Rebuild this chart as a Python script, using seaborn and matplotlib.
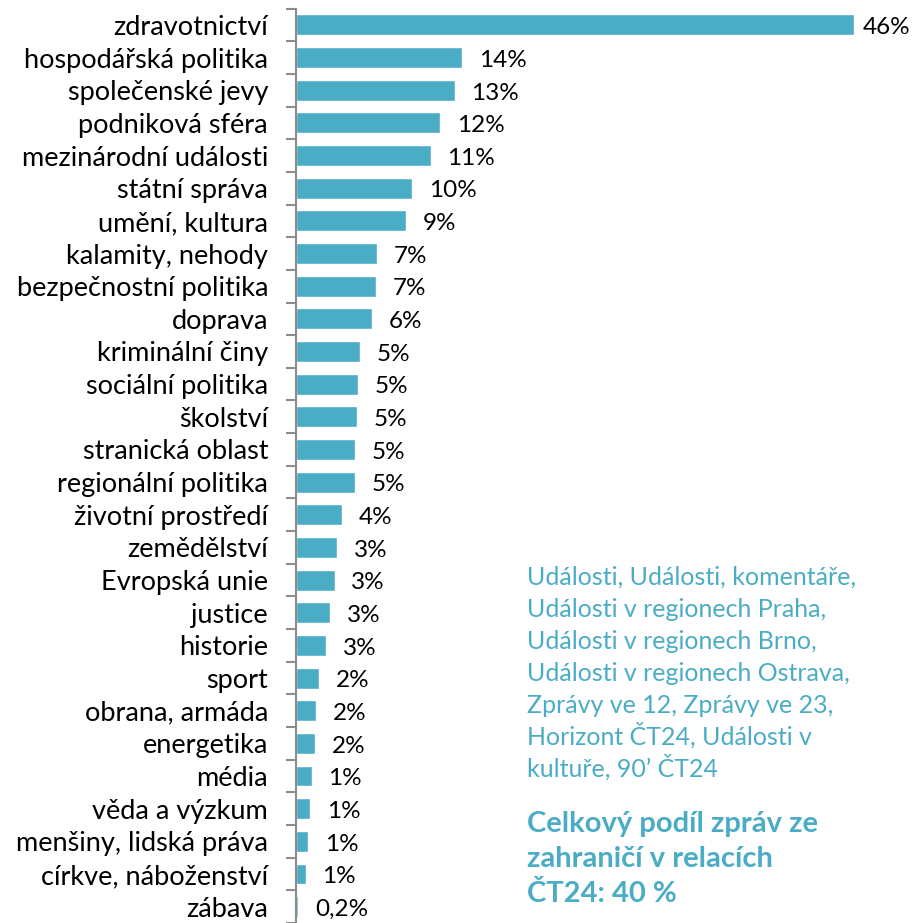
import matplotlib
matplotlib.use("Agg")
import matplotlib.pyplot as plt
import seaborn as sns
import numpy as np
import pandas as pd

categories = ["zdravotnictví", "hospodářská politika", "společenské jevy", "podniková sféra",
              "mezinárodní události", "státní správa", "umění, kultura", "kalamity, nehody",
              "bezpečnostní politika", "doprava", "kriminální činy", "sociální politika",
              "školství", "stranická oblast", "regionální politika", "životní prostředí",
              "zemědělství", "Evropská unie", "justice", "historie", "sport", "obrana, armáda",
              "energetika", "média", "věda a výzkum", "menšiny, lidská práva",
              "církve, náboženství", "zábava"]
values = [46.0, 13.7, 13.1, 11.9, 11.1, 9.6, 9.1, 6.7, 6.6, 6.3, 5.3, 5.1, 5.0, 4.9, 4.9,
          3.8, 3.4, 3.2, 2.8, 2.5, 1.9, 1.65, 1.6, 1.3, 1.2, 1.0, 0.8, 0.2]
value_labels = ["46%", "14%", "13%", "12%", "11%", "10%", "9%", "7%", "7%", "6%", "5%", "5%",
                "5%", "5%", "5%", "4%", "3%", "3%", "3%", "3%", "2%", "2%", "2%", "1%", "1%",
                "1%", "1%", "0,2%"]

note_lines = ["Události, Události, komentáře,", "Události v regionech Praha,",
              "Události v regionech Brno,", "Události v regionech Ostrava,",
              "Zprávy ve 12, Zprávy ve 23,", "Horizont ČT24, Události v",
              "kultuře, 90’ ČT24"]
total_lines = ["Celkový podíl zpráv ze", "zahraničí v relacích", "ČT24: 40 %"]

bar_color = "#4BACC6"

sns.set_style("white")
plt.rcParams['font.family'] = ['Lato', 'DejaVu Sans']

df = pd.DataFrame({"category": categories, "value": values})

fig = plt.figure(figsize=(9.13, 9.23), dpi=100)
ax = fig.add_axes([0.324, 0.0, 0.613, 0.9907])
sns.barplot(data=df, x="value", y="category", color=bar_color, saturation=1,
            width=0.64, ax=ax, orient="h")

ax.set_xlim(0, 46.1)
ax.set_ylim(len(categories) - 0.5, -0.5)
ax.set_xlabel("")
ax.set_ylabel("")
ax.set_xticks([])
sns.despine(ax=ax, top=True, right=True, bottom=True)
ax.spines["left"].set_color("#8c8c8c")
ax.spines["left"].set_linewidth(1.5)

ax.tick_params(axis="y", which="major", length=0, labelsize=19.5, pad=20, colors="black")
ax.set_yticks(np.arange(len(categories) + 1) - 0.5, minor=True)
ax.tick_params(axis="y", which="minor", length=7, width=1.5, color="#8c8c8c", left=True)

for i, (p, lab) in enumerate(zip(ax.patches, value_labels)):
    pad = 6 if i == 0 else 12
    ax.annotate(lab, (p.get_width(), p.get_y() + p.get_height() / 2),
                xytext=(pad, -2), textcoords="offset points", va="center", ha="left",
                fontsize=17.5, color="black", annotation_clip=False)

# text block on the right, placed by baseline so accents don't shift lines
H = 923
for k, line in enumerate(note_lines):
    fig.text(527 / 913, 1 - (577 + 8 + 32 * k) / H, line, color=bar_color, fontsize=18,
             va="baseline", ha="left")
for k, line in enumerate(total_lines):
    fig.text(527 / 913, 1 - (823 + 9 + 35 * k) / H, line, color=bar_color, fontsize=21,
             fontweight="bold", va="baseline", ha="left")

fig.savefig("out.png", dpi=100)
